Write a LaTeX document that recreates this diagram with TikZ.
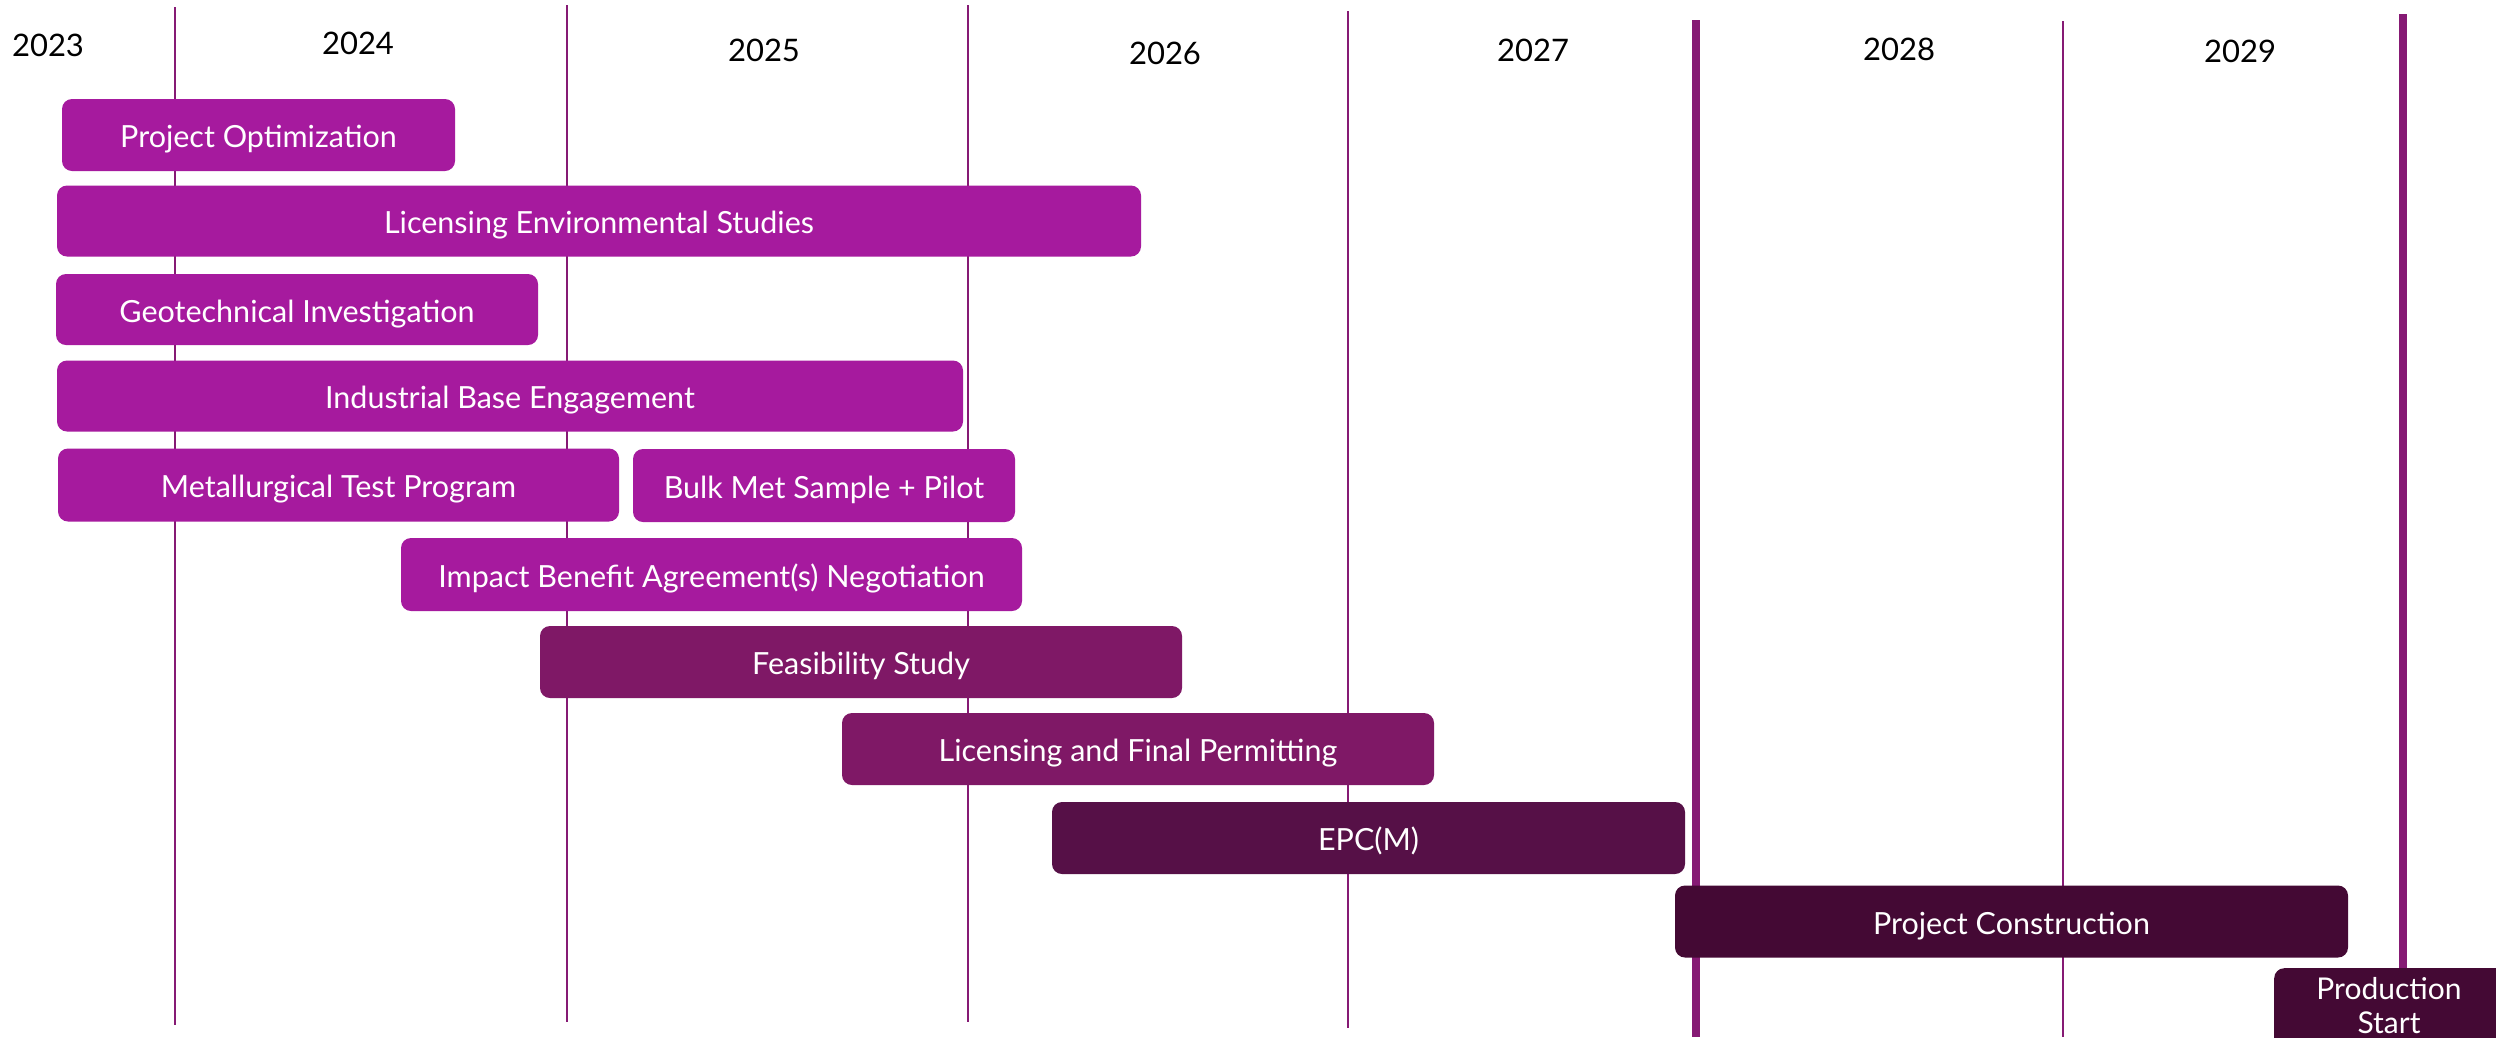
\documentclass[tikz,border=0pt]{standalone}
\usepackage{fontspec}
\setmainfont{Lato}
\definecolor{barA}{HTML}{A61A9E}
\definecolor{barB}{HTML}{7F1866}
\definecolor{barC}{HTML}{561047}
\definecolor{barD}{HTML}{440934}
\definecolor{gridc}{HTML}{861A74}
\begin{document}
\begin{tikzpicture}[x=1pt,y=-1pt,
  bar/.style={rounded corners=10pt, inner sep=0pt, text=white,
    font=\fontsize{30.5}{35}\selectfont, align=center,
    text height=31pt, text depth=6pt},
  yr/.style={font=\fontsize{31}{35}\selectfont, text=black, inner sep=0pt},
  thin/.style={draw=gridc, line width=2pt},
  thick/.style={draw=gridc, line width=8pt}]
\useasboundingbox (0,0) rectangle (2496,1037);
\fill[white] (0,0) rectangle (2496,1037);
% grid lines
\coordinate (t1) at (175,7);   \coordinate (b1) at (175,1025);
\coordinate (t2) at (567,5);   \coordinate (b2) at (567,1022);
\coordinate (t3) at (968,5);   \coordinate (b3) at (968,1022);
\coordinate (t4) at (1348,11); \coordinate (b4) at (1348,1028);
\coordinate (t5) at (1696,20); \coordinate (b5) at (1696,1037);
\coordinate (t6) at (2063,21); \coordinate (b6) at (2063,1037);
\coordinate (t7) at (2403,14); \coordinate (b7) at (2403,968);
\draw[thin] (t1) -- (b1);
\draw[thin] (t2) -- (b2);
\draw[thin] (t3) -- (b3);
\draw[thin] (t4) -- (b4);
\draw[thick] (t5) -- (b5);
\draw[thin] (t6) -- (b6);
\draw[thick] (t7) -- (b7);
% years
\node[yr] (y23) at (48,45) {2023};
\node[yr] (y24) at (358,43) {2024};
\node[yr] (y25) at (764,50) {2025};
\node[yr] (y26) at (1165,53) {2026};
\node[yr] (y27) at (1533,50) {2027};
\node[yr] (y28) at (1899,49) {2028};
\node[yr] (y29) at (2240,51) {2029};
% bars
\node[bar, fill=barA, minimum width=393pt, minimum height=72pt] (po) at (258.5,135) {Project Optimization};
\node[bar, fill=barA, minimum width=1084pt, minimum height=71pt] (les) at (599,221) {Licensing Environmental Studies};
\node[bar, fill=barA, minimum width=482pt, minimum height=71pt] (gi) at (297,309.5) {Geotechnical Investigation};
\node[bar, fill=barA, minimum width=906pt, minimum height=71pt] (ibe) at (510,396) {Industrial Base Engagement};
\node[bar, fill=barA, minimum width=561pt, minimum height=73pt] (mtp) at (338.5,485) {Metallurgical Test Program};
\node[bar, fill=barA, minimum width=382pt, minimum height=73pt] (bms) at (824,485.5) {Bulk Met Sample + Pilot};
\node[bar, fill=barA, minimum width=621pt, minimum height=73pt] (iba) at (711.5,574.5) {Impact Benefit Agreement(s) Negotiation};
\node[bar, fill=barB, minimum width=642pt, minimum height=72pt] (fs) at (861,662) {Feasibility Study};
\node[bar, fill=barB, minimum width=592pt, minimum height=72pt] (lfp) at (1138,749) {Licensing and Final Permitting};
\node[bar, fill=barC, minimum width=633pt, minimum height=72pt] (epc) at (1368.5,838) {EPC(M)};
\node[bar, fill=barD, minimum width=673pt, minimum height=72pt] (pc) at (2011.5,921.5) {Project Construction};
\node[bar, fill=barD, minimum width=232pt, minimum height=110pt, anchor=north west] (ps) at (2274,968) {};
\node[text=white, font=\fontsize{30}{34}\selectfont, align=center, inner sep=0pt] (pst) at (2389,1006) {Production\\Start};
\end{tikzpicture}
\end{document}
